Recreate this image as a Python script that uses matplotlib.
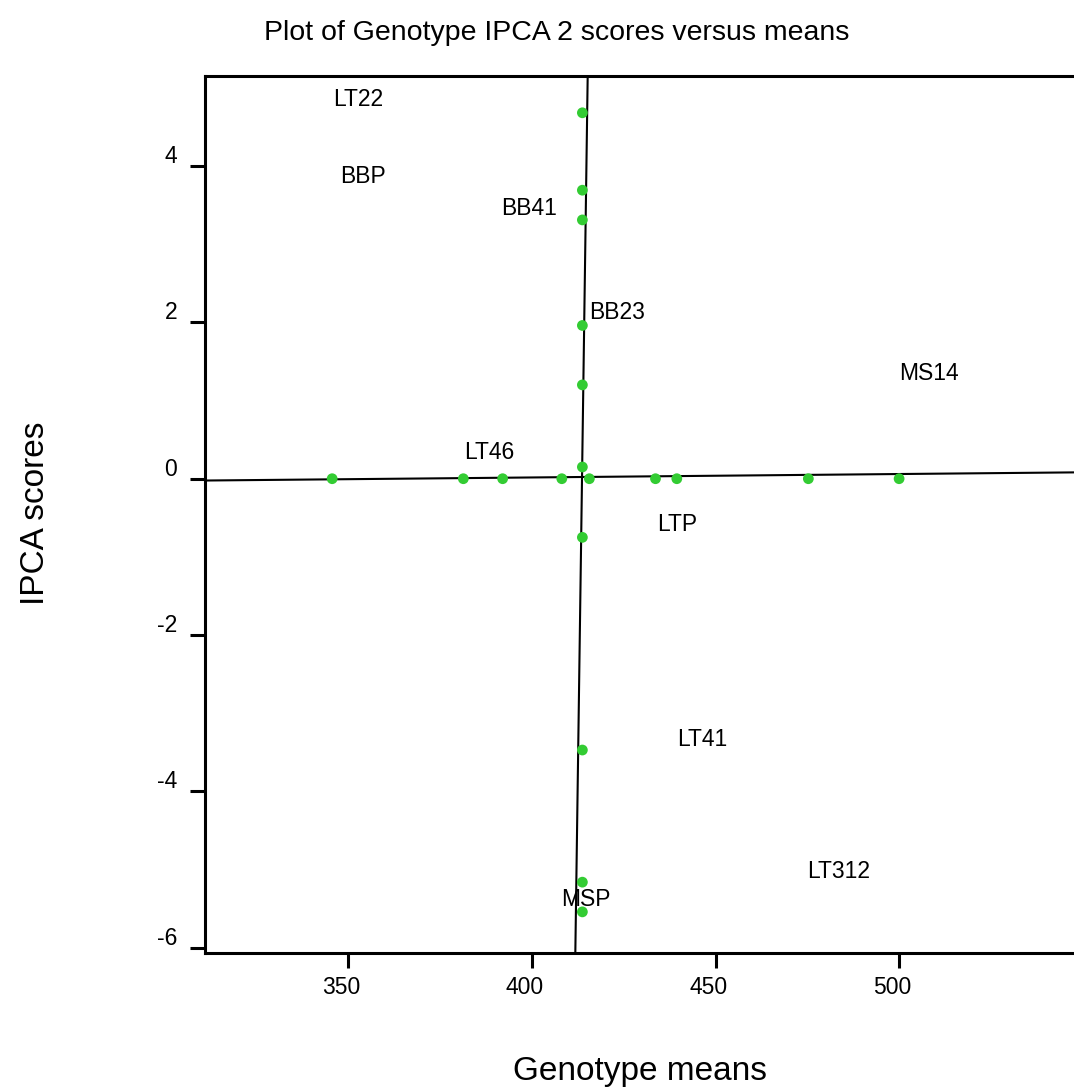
import numpy as np
import matplotlib.pyplot as plt
from matplotlib.transforms import ScaledTranslation

plt.rcParams['font.family'] = ['Liberation Sans', 'DejaVu Sans']

# genotype means (x) and IPCA 2 scores (y)
means_h = [345.6, 381.3, 392.0, 408.1, 415.6, 433.6, 439.4, 475.2, 499.9]
ipca_h = [0, 0, 0, 0, 0, 0, 0, 0, 0]
means_v = [413.7, 413.7, 413.7, 413.7, 413.7, 413.7, 413.7, 413.7, 413.7, 413.7]
ipca_v = [4.68, 3.69, 3.31, 1.96, 1.20, 0.15, -0.75, -3.47, -5.16, -5.54]

labels = ['LT22', 'BBP', 'BB41', 'BB23', 'MS14', 'LT46', 'LTP', 'LT41', 'LT312', 'MSP']
label_x = [352.6, 354.0, 399.2, 423.1, 508.0, 388.3, 439.4, 446.2, 483.5, 414.7]
label_y = [4.85, 3.86, 3.46, 2.12, 1.35, 0.33, -0.58, -3.34, -5.02, -5.38]

# fitted reference lines (y = a + b*x for horizontal, x = c + d*y for vertical)
h_line = (-0.16, 0.00044)
v_line = (413.6, 0.30)

xlim = (311, 547.5)
ylim = (-6.07, 5.15)

fig = plt.figure(figsize=(10.74, 10.91), dpi=100)
ax = fig.add_axes([0.1909, 0.1262, 0.8091, 0.8041])

xs = np.array(xlim)
ax.plot(xs, h_line[0] + h_line[1] * xs, color='black', lw=1.5, zorder=2)
ys = np.array(ylim)
ax.plot(v_line[0] + v_line[1] * ys, ys, color='black', lw=1.5, zorder=2)

ax.scatter(means_h + means_v, ipca_h + ipca_v, s=60, color='#33cc33',
           edgecolors='none', zorder=3)

for lab, lx, ly in zip(labels, label_x, label_y):
    ax.text(lx, ly, lab, fontsize=16.5, ha='center', va='center', zorder=4)

ax.set_xlim(*xlim)
ax.set_ylim(*ylim)
ax.set_xticks([350, 400, 450, 500])
ax.set_yticks([-6, -4, -2, 0, 2, 4])
ax.set_yticklabels(['-6', '-4', '-2', '0', '2', '4'])

for s in ['left', 'bottom', 'top']:
    ax.spines[s].set_linewidth(2.2)
ax.spines['right'].set_visible(False)
ax.tick_params(direction='out', length=11, width=2.2, labelsize=16.5)
ax.tick_params(axis='y', pad=9)
ax.tick_params(axis='x', pad=5)

for t in ax.get_yticklabels():
    t.set_transform(t.get_transform() + ScaledTranslation(0, 12 / 100, fig.dpi_scale_trans))
for t in ax.get_xticklabels():
    t.set_transform(t.get_transform() + ScaledTranslation(-7 / 100, 0, fig.dpi_scale_trans))

fig.text(0.518, 0.970, 'Plot of Genotype IPCA 2 scores versus means', fontsize=20.5,
         ha='center', va='center')
fig.text(0.596, 0.018, 'Genotype means', fontsize=24, ha='center', va='center')
fig.text(0.033, 0.53, 'IPCA scores', fontsize=24, ha='center', va='center', rotation=90)

fig.savefig('out.png', dpi=100)
